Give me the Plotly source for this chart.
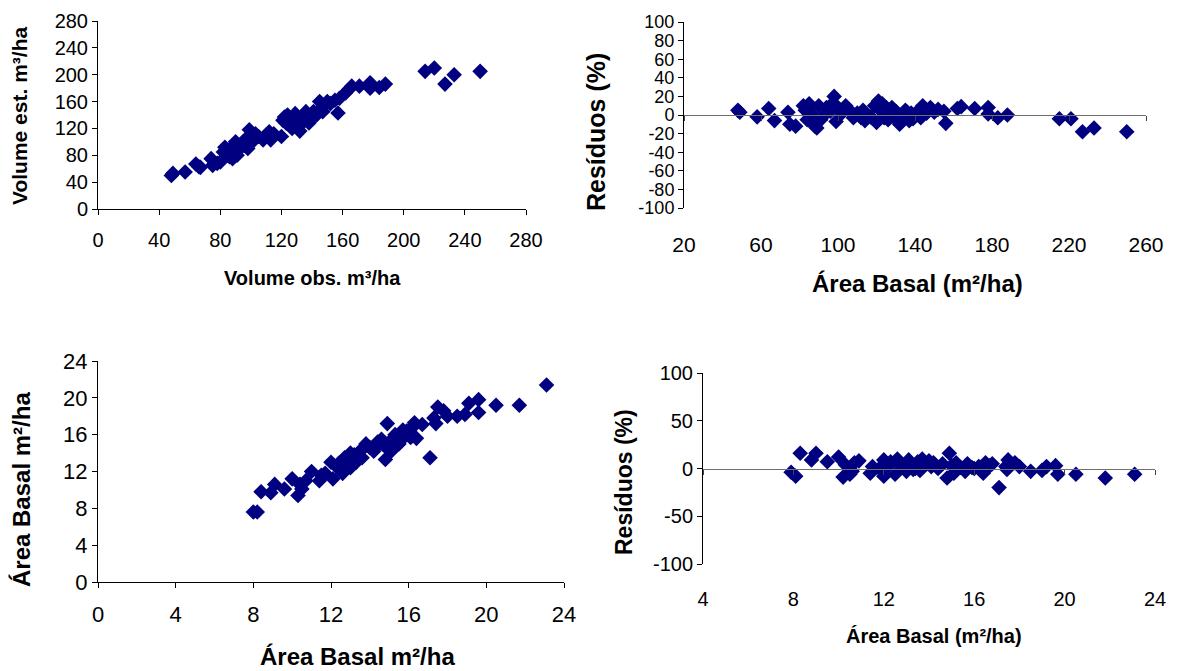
import plotly.graph_objects as go

# ---------------- data ----------------
vol_obs = [48, 49, 57, 64, 66, 67, 74, 75, 78, 80, 82, 83, 84, 85, 86, 87, 88, 88, 89, 90,
           90, 91, 92, 95, 96, 97, 98, 99, 100, 101, 103, 105, 108, 110, 112, 113, 115, 120, 121, 122,
           123, 124, 125, 126, 127, 128, 129, 130, 131, 132, 133, 134, 135, 136, 137, 138, 139, 140, 141, 143,
           145, 146, 147, 148, 150, 152, 155, 157, 158, 162, 164, 166, 171, 178, 178, 184, 188, 214, 220, 227,
           233, 250]
vol_est = [50, 53, 55, 67, 63, 62, 75, 65, 68, 70, 85, 92, 88, 80, 78, 90, 82, 75, 95, 85,
           100, 80, 88, 100, 95, 105, 90, 118, 110, 100, 112, 108, 103, 110, 115, 103, 112, 108, 132, 137,
           128, 140, 125, 132, 120, 135, 142, 128, 122, 116, 135, 130, 138, 145, 132, 128, 140, 136, 145, 140,
           160, 150, 145, 155, 160, 157, 162, 143, 165, 173, 178, 183, 183, 188, 180, 181, 186, 205, 210, 186,
           200, 205]

res1_x = [48, 49, 58, 64, 67, 74, 75, 78, 82, 83, 84, 85, 86, 87, 88, 89, 90, 91, 92, 94,
          96, 97, 98, 99, 100, 102, 104, 106, 108, 110, 112, 113, 114, 117, 119, 120, 121, 122, 123, 124,
          125, 126, 127, 128, 129, 130, 131, 132, 133, 134, 135, 136, 137, 138, 139, 140, 141, 143, 144, 145,
          146, 148, 150, 152, 155, 156, 162, 164, 171, 178, 178, 183, 188, 215, 221, 227, 233, 250]
res1_y = [5, 3, -2, 7, -6, 3, -10, -12, 10, 5, -5, 12, 2, -8, -12, -14, 10, -5, -2, 8,
          4, 12, 20, -7, 8, 2, 10, 5, -3, 2, -3, 5, -6, -2, 10, -8, 15, 5, 12, -3,
          8, -5, 2, 8, -2, 4, -3, -10, 0, -2, 5, 3, -6, 2, -4, 1, 3, -3, 10, 5,
          2, 8, 3, 6, 4, -9, 7, 9, 7, 8, 1, -3, 0, -4, -4, -18, -14, -18]

ab_obs = [8.0, 8.2, 8.4, 8.9, 9.1, 9.6, 10.0, 10.3, 10.5, 10.4, 10.7, 11.0, 11.4, 11.5, 11.7, 12.0, 12.1, 12.3, 12.5, 12.6,
          12.7, 12.8, 12.9, 13.0, 13.0, 13.2, 13.3, 13.5, 13.6, 13.8, 14.0, 14.2, 14.5, 14.6, 14.8, 14.9, 14.9, 15.0, 15.1, 15.2,
          15.3, 15.4, 15.6, 15.7, 15.8, 16.0, 16.2, 16.3, 16.4, 16.7, 17.1, 17.3, 17.4, 17.5, 17.8, 18.0, 18.5, 18.9, 19.1, 19.6,
          19.6, 20.5, 21.7, 23.1, 12.4, 13.1, 13.4, 13.7, 14.3, 14.7, 15.5, 15.9, 16.1, 14.4]
ab_est = [7.6, 7.6, 9.8, 9.7, 10.6, 10.1, 11.2, 9.4, 10.1, 10.6, 11.0, 12.0, 11.0, 11.6, 11.8, 13.0, 11.2, 12.5, 13.0, 11.8,
          13.5, 12.8, 13.2, 14.0, 12.4, 13.8, 13.0, 14.2, 13.5, 15.0, 14.6, 14.2, 15.1, 15.5, 13.3, 17.2, 14.5, 15.0, 14.2, 15.6,
          16.0, 15.3, 15.9, 16.5, 15.8, 16.2, 16.8, 17.3, 15.6, 17.1, 13.5, 17.8, 17.2, 19.0, 18.6, 18.0, 18.0, 18.2, 19.4, 18.4,
          19.8, 19.2, 19.2, 21.4, 12.9, 13.4, 14.0, 14.6, 14.8, 14.9, 15.0, 16.4, 15.7, 15.2]

res2_x = [7.9, 8.1, 8.3, 8.8, 9.0, 9.5, 10.0, 10.2, 10.3, 10.5, 10.6, 10.7, 10.9, 11.4, 11.5, 11.8, 12.0, 12.0, 12.2, 12.5,
          12.6, 12.7, 12.9, 13.0, 13.1, 13.2, 13.4, 13.5, 13.6, 13.7, 13.9, 14.1, 14.2, 14.4, 14.6, 14.8, 14.9, 15.0, 15.1, 15.2,
          15.4, 15.6, 15.7, 16.0, 16.2, 16.4, 16.5, 16.7, 16.8, 17.1, 17.4, 17.5, 17.6, 17.8, 18.0, 18.5, 19.0, 19.2, 19.6, 19.7,
          20.5, 21.8, 23.1, 12.3, 13.3, 14.0, 15.9, 16.3, 17.45]
res2_y = [-4, -8, 16, 9, 16, 7, 12, -9, 4, -6, -3, 6, 8, -5, 2, 0, 9, -8, 3, -6,
          10, 5, 2, -3, 9, 4, 0, 7, -2, 10, 5, 2, 6, 0, 5, -10, 16, 3, -5, 6,
          1, -3, 5, 0, 2, -5, 6, 3, 5, -20, 2, 9, 5, 6, 2, -3, -2, 2, 3, -6,
          -6, -10, -6, 7, -1, 8, 1, -2, -1]

x1_ticks = [0, 40, 80, 120, 160, 200, 240, 280]
y1_ticks = [0, 40, 80, 120, 160, 200, 240, 280]
x2_ticks = [20, 60, 100, 140, 180, 220, 260]
y2_ticks = [-100, -80, -60, -40, -20, 0, 20, 40, 60, 80, 100]
x3_ticks = [0, 4, 8, 12, 16, 20, 24]
y3_ticks = [0, 4, 8, 12, 16, 20, 24]
x4_ticks = [4, 8, 12, 16, 20, 24]
y4_ticks = [-100, -50, 0, 50, 100]

# ---------------- layout helpers ----------------
W, H = 1183, 671
def fx(px):
    return px / W
def fy(py):
    return 1 - py / H

NAVY = "#000080"
FONT = "Liberation Sans, Arial, sans-serif"
marker = dict(symbol="diamond", size=12, color=NAVY, line=dict(width=0))

fig = go.Figure()
fig.add_trace(go.Scatter(x=vol_obs, y=vol_est, mode="markers", marker=marker, xaxis="x", yaxis="y"))
fig.add_trace(go.Scatter(x=res1_x, y=res1_y, mode="markers", marker=marker, xaxis="x2", yaxis="y2"))
fig.add_trace(go.Scatter(x=ab_obs, y=ab_est, mode="markers", marker=marker, xaxis="x3", yaxis="y3"))
fig.add_trace(go.Scatter(x=res2_x, y=res2_y, mode="markers", marker=marker, xaxis="x4", yaxis="y4"))
# helper (empty) traces so that the zero-line axes are drawn
fig.add_trace(go.Scatter(x=[None], y=[None], mode="markers", xaxis="x5", yaxis="y2", hoverinfo="skip"))
fig.add_trace(go.Scatter(x=[None], y=[None], mode="markers", xaxis="x6", yaxis="y4", hoverinfo="skip"))


def lin_axis(domain, rng, ticks, size, anchor, line=True, tick_on=True, labels=True, standoff=None):
    d = dict(domain=domain, range=rng, tickvals=ticks, ticktext=[str(t) for t in ticks],
             showgrid=False, zeroline=False, showline=line, linecolor="black", linewidth=1,
             ticks="outside" if tick_on else "", ticklen=5, tickcolor="black", tickwidth=1,
             tickfont=dict(family=FONT, size=size, color="black"), anchor=anchor,
             showticklabels=labels, automargin=False)
    if standoff is not None:
        d["ticklabelstandoff"] = standoff
    return d

# panel geometry (pixels)
p1 = dict(x0=98, x1=526, yt=21, yb=209)
p2 = dict(x0=684, x1=1146, yt=22, yb=208)
p3 = dict(x0=98, x1=564, yt=361, yb=582)
p4 = dict(x0=703, x1=1155, yt=373, yb=564)

layout = dict(
    template="none",
    width=W, height=H, margin=dict(l=0, r=0, t=0, b=0, pad=0),
    paper_bgcolor="white", plot_bgcolor="white", showlegend=False,
    xaxis=lin_axis([fx(p1["x0"]), fx(p1["x1"])], [0, 280], x1_ticks, 20, "y", standoff=8),
    yaxis=lin_axis([fy(p1["yb"]), fy(p1["yt"])], [0, 280], y1_ticks, 20, "x"),
    xaxis2=lin_axis([fx(p2["x0"]), fx(p2["x1"])], [20, 260], x2_ticks, 21, "y2",
                    line=False, tick_on=False, standoff=22),
    yaxis2=lin_axis([fy(p2["yb"]), fy(p2["yt"])], [-100, 100], y2_ticks, 18, "x2"),
    xaxis3=lin_axis([fx(p3["x0"]), fx(p3["x1"])], [0, 24], x3_ticks, 22, "y3", standoff=8),
    yaxis3=lin_axis([fy(p3["yb"]), fy(p3["yt"])], [0, 24], y3_ticks, 22, "x3"),
    xaxis4=lin_axis([fx(p4["x0"]), fx(p4["x1"])], [4, 24], x4_ticks, 20, "y4",
                    line=False, tick_on=False, standoff=21),
    yaxis4=lin_axis([fy(p4["yb"]), fy(p4["yt"])], [-100, 100], y4_ticks, 20, "x4"),
)
# zero lines with tick marks, overlaying the residual panels' x axes
zero2 = dict(range=[20, 260], tickvals=x2_ticks, overlaying="x2", anchor="free",
             position=(fy(p2["yb"]) + fy(p2["yt"])) / 2, showline=True, linecolor="#707070",
             linewidth=1, ticks="outside", ticklen=5, tickcolor="#404040", showticklabels=False,
             showgrid=False, zeroline=False, automargin=False)
zero4 = dict(range=[4, 24], tickvals=x4_ticks, overlaying="x4", anchor="free",
             position=(fy(p4["yb"]) + fy(p4["yt"])) / 2, showline=True, linecolor="#707070",
             linewidth=1, ticks="outside", ticklen=5, tickcolor="#404040", showticklabels=False,
             showgrid=False, zeroline=False, automargin=False)
layout["xaxis5"] = zero2
layout["xaxis6"] = zero4
fig.update_layout(**layout)

def title(text, px, py, size, angle=0):
    fig.add_annotation(text=f"<b>{text}</b>", x=fx(px), y=fy(py), xref="paper", yref="paper",
                       showarrow=False, textangle=angle, xanchor="center", yanchor="middle",
                       font=dict(family=FONT, size=size, color="black"))

title("Volume obs. m³/ha", 312, 278, 20)
title("Volume est. m³/ha", 19, 116, 21, -90)
title("Área Basal (m²/ha)", 917, 283, 24)
title("Resíduos (%)", 596, 132, 25, -90)
title("Área Basal m²/ha", 357, 656, 24)
title("Área Basal m²/ha", 21, 490, 24, -90)
title("Área Basal (m²/ha)", 934, 636, 20)
title("Resíduos (%)", 624, 482, 23, -90)

fig.write_html("out.html")
